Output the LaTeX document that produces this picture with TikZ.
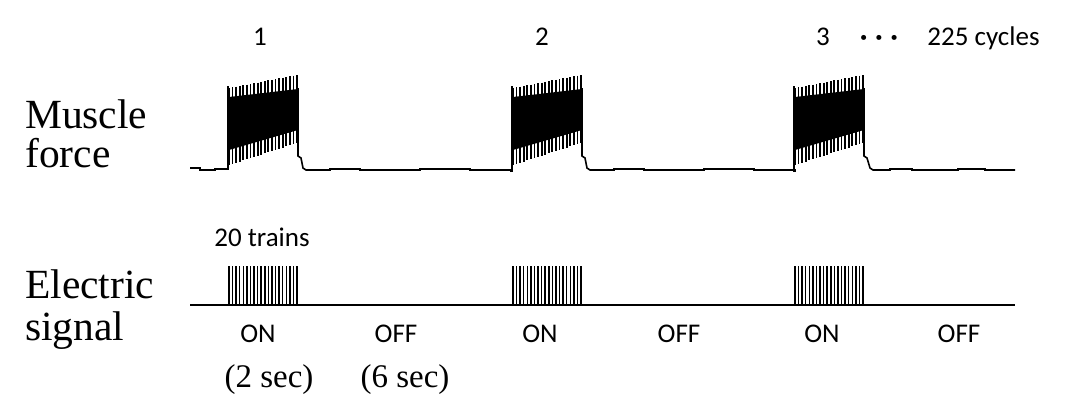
\documentclass[tikz,border=0pt]{standalone}
\usepackage{fontspec}
\setmainfont{Liberation Serif}
\newfontfamily\labelfont{Carlito}
\begin{document}
\begin{tikzpicture}[x=1pt,y=-1pt,
  lbl/.style={font=\labelfont\fontsize{27}{30}\selectfont, inner sep=0pt, anchor=base},
  big/.style={font=\fontsize{41.5}{44}\selectfont, inner sep=0pt, anchor=base west},
  dur/.style={font=\fontsize{33}{36}\selectfont, inner sep=0pt, anchor=base},
  trace/.style={line width=1.6pt, line join=miter},
  spike/.style={line width=1.8pt},
  pulse/.style={line width=1.5pt},
  axisline/.style={line width=1.4pt}]
\useasboundingbox (0,0) rectangle (1081,410);

% row labels
\node[big] (muscle) at (25,128) {Muscle};
\node[big] (force) at (25,167) {force};
\node[big] (electric) at (25,298) {Electric};
\node[big] (signal) at (25,340) {signal};

% cycle labels
\node[lbl] (c1) at (260,45) {1};
\node[lbl] (c2) at (542,45) {2};
\node[lbl] (c3) at (823,45) {3};
\node[lbl] (dots) at (879,45) {\textbf{·\hspace{8pt}·\hspace{8pt}·}};
\node[lbl] (cycles) at (983.5,45) {225 cycles};
\node[lbl] (trains) at (262,246) {20 trains};

% ON / OFF labels
\node[lbl] (on1) at (258,342) {ON};
\node[lbl] (off1) at (396,342) {OFF};
\node[lbl] (on2) at (540,342) {ON};
\node[lbl] (off2) at (679,342) {OFF};
\node[lbl] (on3) at (822,342) {ON};
\node[lbl] (off3) at (959,342) {OFF};
\node[dur] (d2) at (269,387) {(2 sec)};
\node[dur] (d6) at (405,387) {(6 sec)};

% muscle force trace: baseline pieces
\draw[trace] (190,168) -- (200,168) -- (200,170) -- (215,170) -- (215,169) -- (228,169) -- (228,86);
\foreach \o/\n in {0/284, 284/566} {
  \draw[trace] (298+\o,88) -- (298+\o,156) -- (301+\o,158) -- (303+\o,168) -- (306+\o,170)
    -- (330+\o,170) -- (330+\o,169) -- (360+\o,169) -- (360+\o,170) -- (420+\o,170)
    -- (420+\o,169) -- (470+\o,169) -- (470+\o,170) -- (511+\o,170) -- (511+\o,171) -- (228+\n,171) -- (228+\n,86);
}
\draw[trace] (864,88) -- (864,156) -- (867,158) -- (870,168) -- (873,170)
  -- (890,170) -- (890,169) -- (912,169) -- (912,170) -- (958,170) -- (958,169) -- (985,169)
  -- (985,170) -- (1015,170);

% muscle force bursts
\foreach \o in {0,284,566} {
  \fill (229+\o,97) -- (298+\o,89) -- (298+\o,130) -- (229+\o,150) -- cycle;
  \foreach \i in {0,...,19} {
    \pgfmathsetmacro{\xx}{229+\o+\i*68/19}
    \pgfmathsetmacro{\yt}{88-\i*13/19}
    \pgfmathsetmacro{\yb}{165-\i*22/19}
    \draw[spike] (\xx,\yt) -- (\xx,\yb);
  }
}

% electric signal
\draw[axisline] (190,305) -- (1015,305);
\foreach \o in {0,284,566} {
  \foreach \i in {0,...,19} {
    \pgfmathsetmacro{\xx}{229+\o+\i*68/19}
    \draw[pulse] (\xx,305) -- (\xx,266);
  }
}
\end{tikzpicture}
\end{document}
